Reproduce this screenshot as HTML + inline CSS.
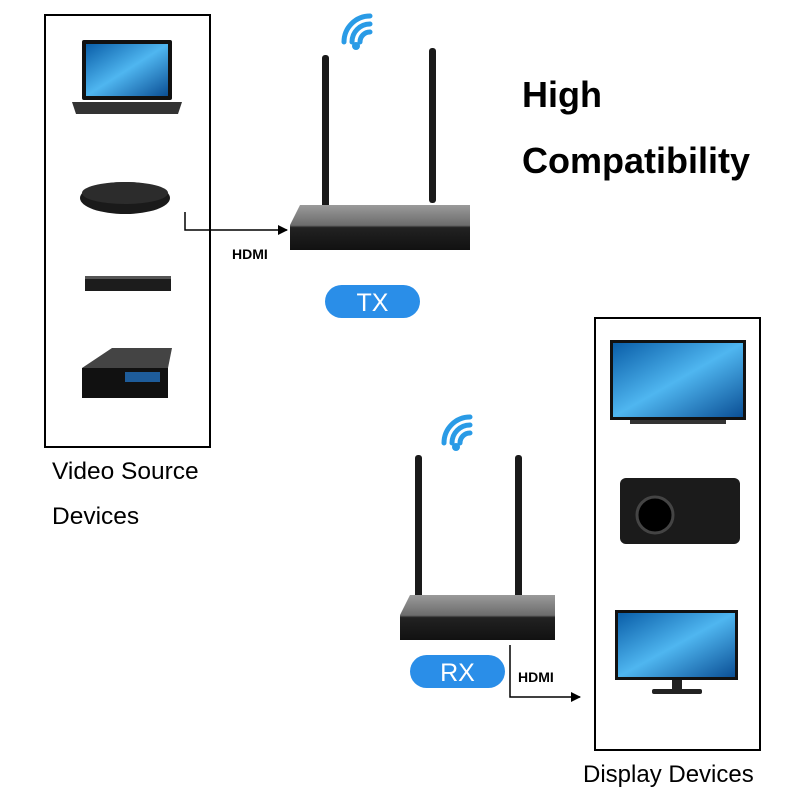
<!DOCTYPE html>
<html><head><style>
body{margin:0;width:800px;height:800px;background:#fff;position:relative;overflow:hidden;font-family:"Liberation Sans",sans-serif}
.a{position:absolute}
</style></head><body>
<svg class="a" style="left:0;top:0" width="800" height="800">
<defs>
<linearGradient id="scr" x1="0" y1="0" x2="1" y2="1"><stop offset="0" stop-color="#0a5ea8"/><stop offset=".5" stop-color="#4fb6f0"/><stop offset="1" stop-color="#0b4f95"/></linearGradient>
<linearGradient id="dev" x1="0" y1="0" x2="0" y2="1"><stop offset="0" stop-color="#9a9a9a"/><stop offset=".45" stop-color="#6c6c6c"/><stop offset=".5" stop-color="#222"/><stop offset="1" stop-color="#111"/></linearGradient>
<marker id="ar" markerWidth="10" markerHeight="10" refX="9" refY="5" orient="auto" markerUnits="userSpaceOnUse"><path d="M0,0 L10,5 L0,10 z" fill="#000"/></marker>
</defs>
<rect x="45" y="15" width="165" height="432" fill="none" stroke="#000" stroke-width="2"/>
<rect x="82" y="40" width="90" height="60" rx="2" fill="#111"/>
<rect x="86" y="44" width="82" height="52" fill="url(#scr)"/>
<path d="M72 102 L182 102 L178 114 L76 114 z" fill="#333"/>
<ellipse cx="125" cy="198" rx="45" ry="16" fill="#1a1a1a"/>
<ellipse cx="125" cy="193" rx="43" ry="11" fill="#2c2c2c"/>
<rect x="85" y="276" width="86" height="15" fill="#1c1c1c"/>
<rect x="85" y="276" width="86" height="3" fill="#555"/>
<path d="M82 368 L112 348 L172 348 L168 368 z" fill="#444"/>
<rect x="82" y="368" width="86" height="30" fill="#111"/>
<rect x="125" y="372" width="35" height="10" fill="#1e5c9a"/>
<polyline points="185,212 185,230 287,230" fill="none" stroke="#000" stroke-width="1.5" marker-end="url(#ar)"/>
<rect x="322" y="55" width="7" height="155" rx="3" fill="#1a1a1a"/>
<rect x="429" y="48" width="7" height="155" rx="3" fill="#1a1a1a"/>
<path d="M300 205 L470 205 L470 250 L290 250 L290 225 z" fill="url(#dev)"/>
<g fill="none" stroke="#2a9be6" stroke-width="5" stroke-linecap="round">
<path d="M360 42 a10 10 0 0 1 10 -10"/><path d="M352 42 a18 18 0 0 1 18 -18"/><path d="M344 42 a26 26 0 0 1 26 -26"/>
</g>
<circle cx="356" cy="46" r="4" fill="#2a9be6"/>
<rect x="325" y="285" width="95" height="33" rx="16.5" fill="#2a8ee8"/>
<text x="372.5" y="311" text-anchor="middle" font-size="25" fill="#fff">TX</text>
<rect x="595" y="318" width="165" height="432" fill="none" stroke="#000" stroke-width="2"/>
<rect x="610" y="340" width="136" height="80" fill="#111"/>
<rect x="613" y="343" width="130" height="74" fill="url(#scr)"/>
<rect x="630" y="420" width="96" height="4" fill="#333"/>
<rect x="620" y="478" width="120" height="66" rx="6" fill="#1b1b1b"/>
<circle cx="655" cy="515" r="18" fill="#000" stroke="#444" stroke-width="3"/>
<rect x="615" y="610" width="123" height="70" fill="#111"/>
<rect x="618" y="613" width="117" height="64" fill="url(#scr)"/>
<rect x="672" y="680" width="10" height="10" fill="#222"/>
<rect x="652" y="689" width="50" height="5" rx="2" fill="#222"/>
<rect x="415" y="455" width="7" height="150" rx="3" fill="#1a1a1a"/>
<rect x="515" y="455" width="7" height="150" rx="3" fill="#1a1a1a"/>
<path d="M410 595 L555 595 L555 640 L400 640 L400 615 z" fill="url(#dev)"/>
<g fill="none" stroke="#2a9be6" stroke-width="5" stroke-linecap="round">
<path d="M460 443 a10 10 0 0 1 10 -10"/><path d="M452 443 a18 18 0 0 1 18 -18"/><path d="M444 443 a26 26 0 0 1 26 -26"/>
</g>
<circle cx="456" cy="447" r="4" fill="#2a9be6"/>
<rect x="410" y="655" width="95" height="33" rx="16.5" fill="#2a8ee8"/>
<text x="457.5" y="681" text-anchor="middle" font-size="25" fill="#fff">RX</text>
<polyline points="510,645 510,697 580,697" fill="none" stroke="#000" stroke-width="1.5" marker-end="url(#ar)"/>
<text x="232" y="259" font-size="14" font-weight="bold">HDMI</text>
<text x="518" y="682" font-size="14" font-weight="bold">HDMI</text>
<text x="522" y="107" font-size="36" font-weight="bold">High</text>
<text x="522" y="173" font-size="36" font-weight="bold">Compatibility</text>
<text x="52" y="479" font-size="24.5">Video Source</text>
<text x="52" y="524" font-size="24.5">Devices</text>
<text x="583" y="782" font-size="24">Display Devices</text>
</svg>
</body></html>
